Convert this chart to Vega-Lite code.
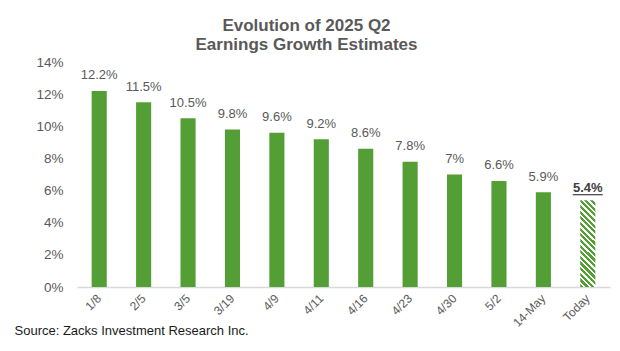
{
  "$schema": "https://vega.github.io/schema/vega-lite/v6.json",
  "width": 533,
  "height": 225,
  "autosize": {"type": "none"},
  "padding": {"left": 77, "top": 62, "right": 10, "bottom": 64},
  "background": "white",
  "config": {
    "font": "Liberation Sans",
    "view": {"stroke": null}
  },
  "title": {
    "text": ["Evolution of 2025 Q2", " Earnings Growth Estimates"],
    "fontSize": 17,
    "fontWeight": "bold",
    "color": "#595959",
    "anchor": "middle",
    "dx": -37,
    "offset": 1,
    "lineHeight": 19.5
  },
  "data": {
    "values": [
      {"d": "1/8", "v": 0.122, "label": "12.2%"},
      {"d": "2/5", "v": 0.115, "label": "11.5%"},
      {"d": "3/5", "v": 0.105, "label": "10.5%"},
      {"d": "3/19", "v": 0.098, "label": "9.8%"},
      {"d": "4/9", "v": 0.096, "label": "9.6%"},
      {"d": "4/11", "v": 0.092, "label": "9.2%"},
      {"d": "4/16", "v": 0.086, "label": "8.6%"},
      {"d": "4/23", "v": 0.078, "label": "7.8%"},
      {"d": "4/30", "v": 0.07, "label": "7%"},
      {"d": "5/2", "v": 0.066, "label": "6.6%"},
      {"d": "14-May", "v": 0.059, "label": "5.9%"},
      {"d": "Today", "v": 0.054, "label": "5.4%"}
    ]
  },
  "encoding": {
    "x": {
      "field": "d",
      "type": "nominal",
      "sort": null,
      "scale": {"paddingInner": 0.66, "paddingOuter": 0.33},
      "axis": {
        "title": "Source: Zacks Investment Research Inc.",
        "titleX": -63,
        "titleY": 43,
        "titleAlign": "left",
        "titleAnchor": "start",
        "titleBaseline": "middle",
        "titleFontSize": 13,
        "titleFontWeight": "normal",
        "titleColor": "#1a1a1a",
        "labelAngle": -45,
        "labelAlign": "right",
        "labelBaseline": "middle",
        "labelFontSize": 12,
        "labelColor": "#595959",
        "labelPadding": 9,
        "ticks": false,
        "domainColor": "#d9d9d9",
        "domainWidth": 1.5,
        "grid": false
      }
    },
    "y": {
      "field": "v",
      "type": "quantitative",
      "scale": {"domain": [0, 0.14], "nice": false},
      "axis": {
        "title": null,
        "values": [0, 0.02, 0.04, 0.06, 0.08, 0.1, 0.12, 0.14],
        "format": ".0%",
        "labelFontSize": 13.5,
        "labelColor": "#595959",
        "labelPadding": 14,
        "domain": false,
        "ticks": false,
        "grid": false
      }
    }
  },
  "layer": [
    {
      "transform": [{"filter": "datum.d !== 'Today'"}],
      "mark": {"type": "bar", "color": "#549e36"}
    },
    {
      "transform": [{"filter": "datum.d === 'Today'"}],
      "mark": {
        "type": "bar",
        "fill": {
          "gradient": "linear",
          "x1": 0, "y1": 1, "x2": 0.198, "y2": -0.14,
          "stops": [
            {"offset": 0, "color": "#549e36"}, {"offset": 0.0306, "color": "#549e36"}, {"offset": 0.0306, "color": "#ffffff"}, {"offset": 0.0556, "color": "#ffffff"},
            {"offset": 0.0556, "color": "#549e36"}, {"offset": 0.0861, "color": "#549e36"}, {"offset": 0.0861, "color": "#ffffff"}, {"offset": 0.1111, "color": "#ffffff"},
            {"offset": 0.1111, "color": "#549e36"}, {"offset": 0.1417, "color": "#549e36"}, {"offset": 0.1417, "color": "#ffffff"}, {"offset": 0.1667, "color": "#ffffff"},
            {"offset": 0.1667, "color": "#549e36"}, {"offset": 0.1972, "color": "#549e36"}, {"offset": 0.1972, "color": "#ffffff"}, {"offset": 0.2222, "color": "#ffffff"},
            {"offset": 0.2222, "color": "#549e36"}, {"offset": 0.2528, "color": "#549e36"}, {"offset": 0.2528, "color": "#ffffff"}, {"offset": 0.2778, "color": "#ffffff"},
            {"offset": 0.2778, "color": "#549e36"}, {"offset": 0.3083, "color": "#549e36"}, {"offset": 0.3083, "color": "#ffffff"}, {"offset": 0.3333, "color": "#ffffff"},
            {"offset": 0.3333, "color": "#549e36"}, {"offset": 0.3639, "color": "#549e36"}, {"offset": 0.3639, "color": "#ffffff"}, {"offset": 0.3889, "color": "#ffffff"},
            {"offset": 0.3889, "color": "#549e36"}, {"offset": 0.4194, "color": "#549e36"}, {"offset": 0.4194, "color": "#ffffff"}, {"offset": 0.4444, "color": "#ffffff"},
            {"offset": 0.4444, "color": "#549e36"}, {"offset": 0.475, "color": "#549e36"}, {"offset": 0.475, "color": "#ffffff"}, {"offset": 0.5, "color": "#ffffff"},
            {"offset": 0.5, "color": "#549e36"}, {"offset": 0.5306, "color": "#549e36"}, {"offset": 0.5306, "color": "#ffffff"}, {"offset": 0.5556, "color": "#ffffff"},
            {"offset": 0.5556, "color": "#549e36"}, {"offset": 0.5861, "color": "#549e36"}, {"offset": 0.5861, "color": "#ffffff"}, {"offset": 0.6111, "color": "#ffffff"},
            {"offset": 0.6111, "color": "#549e36"}, {"offset": 0.6417, "color": "#549e36"}, {"offset": 0.6417, "color": "#ffffff"}, {"offset": 0.6667, "color": "#ffffff"},
            {"offset": 0.6667, "color": "#549e36"}, {"offset": 0.6972, "color": "#549e36"}, {"offset": 0.6972, "color": "#ffffff"}, {"offset": 0.7222, "color": "#ffffff"},
            {"offset": 0.7222, "color": "#549e36"}, {"offset": 0.7528, "color": "#549e36"}, {"offset": 0.7528, "color": "#ffffff"}, {"offset": 0.7778, "color": "#ffffff"},
            {"offset": 0.7778, "color": "#549e36"}, {"offset": 0.8083, "color": "#549e36"}, {"offset": 0.8083, "color": "#ffffff"}, {"offset": 0.8333, "color": "#ffffff"},
            {"offset": 0.8333, "color": "#549e36"}, {"offset": 0.8639, "color": "#549e36"}, {"offset": 0.8639, "color": "#ffffff"}, {"offset": 0.8889, "color": "#ffffff"},
            {"offset": 0.8889, "color": "#549e36"}, {"offset": 0.9194, "color": "#549e36"}, {"offset": 0.9194, "color": "#ffffff"}, {"offset": 0.9444, "color": "#ffffff"},
            {"offset": 0.9444, "color": "#549e36"}, {"offset": 0.975, "color": "#549e36"}, {"offset": 0.975, "color": "#ffffff"}, {"offset": 1, "color": "#ffffff"}
          ]
        }
      }
    },
    {
      "transform": [{"filter": "datum.d !== 'Today'"}],
      "mark": {"type": "text", "baseline": "alphabetic", "dy": -11.5, "fontSize": 13, "color": "#595959"},
      "encoding": {"text": {"field": "label"}}
    },
    {
      "transform": [{"filter": "datum.d === 'Today'"}],
      "mark": {"type": "text", "baseline": "alphabetic", "dy": -8, "fontSize": 13, "fontWeight": "bold", "color": "#404040"},
      "encoding": {"text": {"field": "label"}}
    },
    {
      "transform": [{"filter": "datum.d === 'Today'"}],
      "mark": {"type": "rule", "yOffset": -5.5, "xOffset": -15, "x2Offset": 15, "color": "#404040", "strokeWidth": 1.2},
      "encoding": {"x2": {"field": "d"}}
    }
  ]
}
